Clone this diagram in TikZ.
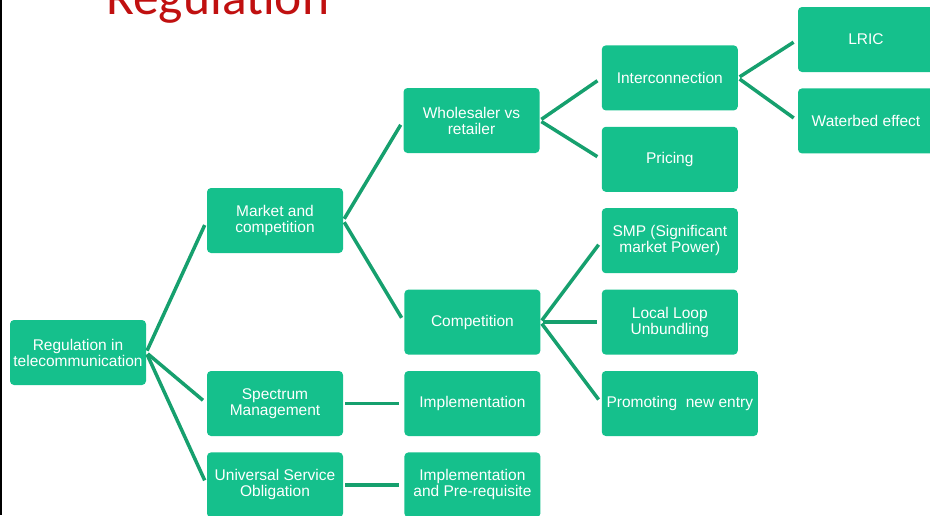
\documentclass[tikz,border=0pt]{standalone}
\usepackage{fontspec}
\setmainfont{Liberation Sans}
\newfontfamily\titlefont{Carlito}
\usepackage{xcolor}
\usetikzlibrary{positioning}

\definecolor{boxgreen}{RGB}{21,192,140}
\definecolor{linkgreen}{RGB}{22,160,110}
\definecolor{titlered}{RGB}{192,16,16}

\begin{document}
\begin{tikzpicture}
      [ x=1pt, y=-1pt,
        node distance=16pt and 61pt,
        box/.style={rectangle, rounded corners=4pt, fill=boxgreen,
          text=white, align=center, inner sep=0pt,
          minimum width=136pt, minimum height=65pt,
          font=\fontsize{15.5}{16}\selectfont},
        link/.style={draw=linkgreen, line width=3.5pt,
          shorten <=2pt, shorten >=5pt}
      ]
      \useasboundingbox (0,0) rectangle (930,515);
      \draw[line width=2pt] (1,0) -- (1,515);
      \node[anchor=base west, inner sep=0pt, text=titlered,
        font=\titlefont\fontsize{51.5}{52}\selectfont] (title) at (106,14) {Regulation};

      % first two levels
      \node[box]  (root)   at (78,352.5)               {Regulation in\\telecommunication};
      \node[box]  (market) at (275,220.5)              {Market and\\competition};
      \node[box]  (spec)   at (275,403.5)              {Spectrum\\Management};
      \node[box]  (uso)    [below=of spec]             {Universal Service\\Obligation};

      % third level
      \node[box]  (whole)  at (471.5,120.5)            {Wholesaler vs\\retailer};
      \node[box]  (imp)    [right=of spec]             {Implementation};
      \node[box]  (impre)  [below=of imp]              {Implementation\\and Pre-requisite};
      \node[box]  (comp)   [above=of imp]              {Competition};

      % fourth level
      \node[box]  (loop)   [right=of comp]             {Local Loop\\Unbundling};
      \node[box]  (smp)    [above=of loop]             {SMP (Significant\\market Power)};
      \node[box]  (pricing)[above=of smp]              {Pricing};
      \node[box]  (inter)  [above=of pricing]          {Interconnection};
      \node[box, minimum width=156pt, anchor=north west]
                  (promo)  at ([yshift=-16pt]loop.south west) {Promoting\ \ new entry};

      % last level
      \node[box]  (lric)   at (866,39.5)               {LRIC};
      \node[box]  (water)  [below=of lric]             {Waterbed effect};

      \path[link] (root.east)   edge (market.west)
                                edge (spec.west)
                                edge (uso.west)
                  (market.east) edge (whole.west)
                                edge (comp.west)
                  (spec.east)   edge (imp.west)
                  (uso.east)    edge (impre.west)
                  (whole.east)  edge (inter.west)
                                edge (pricing.west)
                  (comp.east)   edge (smp.west)
                                edge (loop.west)
                                edge (promo.west)
                  (inter.east)  edge (lric.west)
                                edge (water.west);
    \end{tikzpicture}
\end{document}
